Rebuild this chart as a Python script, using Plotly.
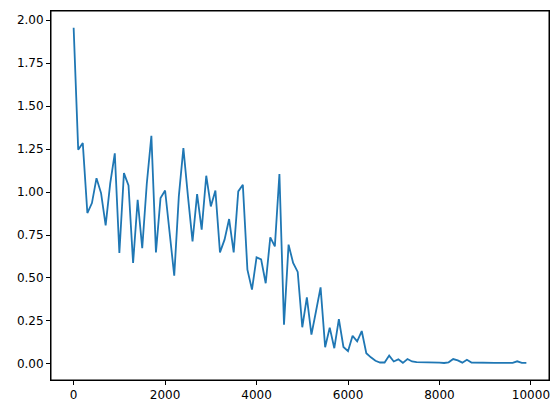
import plotly.graph_objects as go

steps = list(range(0, 10000, 100))
loss = [
    1.957, 1.246, 1.285, 0.878, 0.936, 1.081, 0.994, 0.806, 1.050, 1.225,
    0.645, 1.110, 1.038, 0.587, 0.955, 0.674, 1.050, 1.327, 0.649, 0.965,
    1.009, 0.742, 0.513, 0.975, 1.256, 0.975, 0.713, 0.988, 0.781, 1.095,
    0.916, 1.009, 0.649, 0.723, 0.843, 0.649, 1.004, 1.042, 0.548, 0.432,
    0.620, 0.608, 0.469, 0.736, 0.684, 1.105, 0.228, 0.694, 0.587, 0.535,
    0.213, 0.387, 0.170, 0.306, 0.445, 0.097, 0.211, 0.091, 0.260, 0.098,
    0.074, 0.163, 0.131, 0.191, 0.062, 0.038, 0.018, 0.008, 0.008, 0.048,
    0.014, 0.026, 0.006, 0.028, 0.014, 0.010, 0.010, 0.009, 0.008, 0.006,
    0.007, 0.005, 0.009, 0.028, 0.020, 0.007, 0.024, 0.008, 0.007, 0.005,
    0.007, 0.007, 0.006, 0.006, 0.005, 0.006, 0.006, 0.015, 0.006, 0.006,
]
x_ticks = [0, 2000, 4000, 6000, 8000, 10000]
y_ticks = [0.0, 0.25, 0.5, 0.75, 1.0, 1.25, 1.5, 1.75, 2.0]

fig = go.Figure()
fig.add_trace(go.Scatter(x=steps, y=loss, mode="lines",
                         line=dict(color="#1f77b4", width=1.8),
                         cliponaxis=False))

axis_common = dict(showline=True, linecolor="black", linewidth=1, mirror=True,
                   ticks="outside", ticklen=4, tickcolor="black", tickwidth=1,
                   showgrid=False, zeroline=False, automargin=False,
                   tickfont=dict(family="DejaVu Sans", size=12, color="black"))
fig.update_xaxes(range=[-495, 10395], tickvals=x_ticks,
                 ticktext=[str(t) for t in x_ticks], **axis_common)
fig.update_yaxes(range=[-0.094, 2.054], tickvals=y_ticks,
                 ticktext=[f"{t:.2f}" for t in y_ticks], **axis_common)
fig.add_shape(type="rect", xref="paper", yref="paper", x0=0, y0=0, x1=1, y1=1,
              line=dict(color="black", width=1), fillcolor="rgba(0,0,0,0)",
              layer="above")
fig.update_layout(width=552, height=405, margin=dict(l=43, r=11, t=3, b=33),
                  paper_bgcolor="white", plot_bgcolor="white", showlegend=False)
fig.write_html("out.html")
